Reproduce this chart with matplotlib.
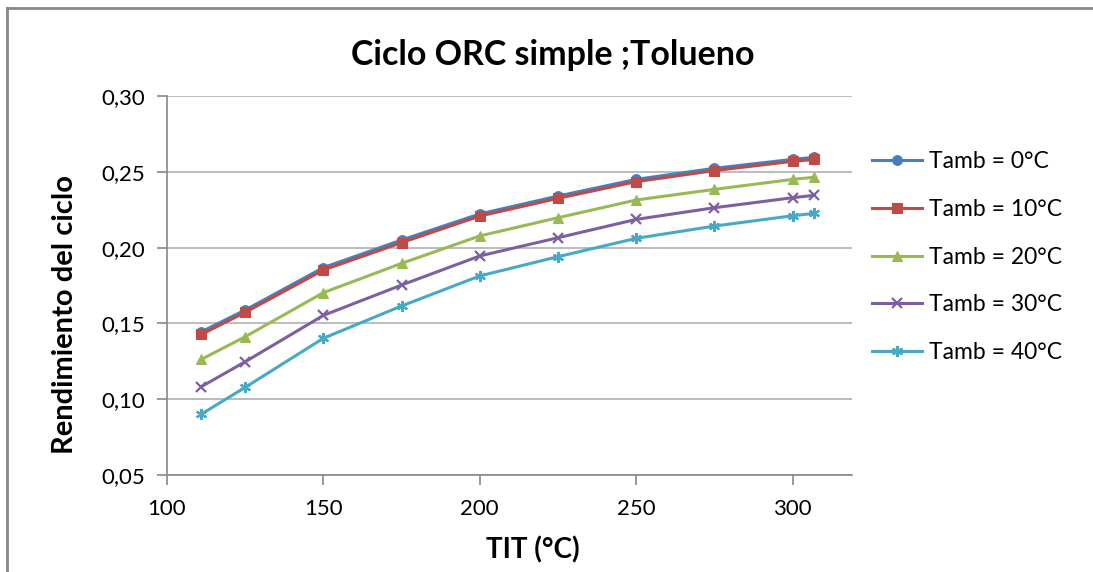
import matplotlib
matplotlib.use("Agg")
import matplotlib.pyplot as plt
from matplotlib.lines import Line2D

tit = [111, 125, 150, 175, 200, 225, 250, 275, 300, 307]
eta_0 = [0.1445, 0.1588, 0.1868, 0.2050, 0.2222, 0.2340, 0.2450, 0.2523, 0.2582, 0.2596]
eta_10 = [0.1428, 0.1573, 0.1852, 0.2033, 0.2208, 0.2325, 0.2435, 0.2508, 0.2569, 0.2582]
eta_20 = [0.1263, 0.1412, 0.1703, 0.1896, 0.2077, 0.2197, 0.2314, 0.2384, 0.2450, 0.2464]
eta_30 = [0.1083, 0.1247, 0.1553, 0.1753, 0.1945, 0.2065, 0.2186, 0.2263, 0.2329, 0.2345]
eta_40 = [0.0902, 0.1078, 0.1402, 0.1615, 0.1813, 0.1940, 0.2061, 0.2142, 0.2210, 0.2226]
labels = ["Tamb = 0°C", "Tamb = 10°C", "Tamb = 20°C", "Tamb = 30°C", "Tamb = 40°C"]
yticks = [0.05, 0.10, 0.15, 0.20, 0.25, 0.30]
xticks = [100, 150, 200, 250, 300]

plt.rcParams['font.family'] = ['Lato', 'DejaVu Sans']

fig = plt.figure(figsize=(10.93, 5.72), dpi=100)
ax = fig.add_axes([167/1093, 1-475/572, (852-167)/1093, (475-96)/572])

series = [eta_0, eta_10, eta_20, eta_30, eta_40]
colors = ["#4a7ebb", "#be4b48", "#98b954", "#7d60a0", "#46aac5"]
markers = ["o", "s", "^", "x", (6, 2, 0)]
msizes = [7, 7, 7, 7, 8]
for ys, c, m, ms, lab in zip(series, colors, markers, msizes, labels):
    ax.plot(tit, ys, color=c, lw=2.2, marker=m, markersize=ms,
            markeredgewidth=1.6 if m in ("x",) or isinstance(m, tuple) else 0.8,
            markerfacecolor=c, markeredgecolor=c, label=lab, zorder=3)

ax.set_xlim(100, 319)
ax.set_ylim(0.05, 0.30)
ax.set_xticks(xticks)
ax.set_yticks(yticks)
ax.set_yticklabels([f"{v:.2f}".replace(".", ",") for v in yticks])
ax.grid(axis="y", color="#b0b0b0", lw=1.2)
ax.set_axisbelow(True)
for s in ["top", "right"]:
    ax.spines[s].set_visible(False)
for s in ["left", "bottom"]:
    ax.spines[s].set_color("#888888")
    ax.spines[s].set_linewidth(1.2)
ax.tick_params(axis="both", colors="#888888", length=7, width=1.2, labelsize=16, labelcolor="black")
ax.tick_params(axis="x", pad=10)
ax.tick_params(axis="y", pad=9)

ax.set_xlabel("TIT (°C)", fontsize=20, fontweight="bold")
ax.set_ylabel("Rendimiento del ciclo", fontsize=21, fontweight="bold")
ax.xaxis.set_label_coords((533-167)/685, (475-550)/379)
ax.yaxis.set_label_coords((65-167)/685, (475-315)/379)
ax.xaxis.label.set_va("center")
ax.yaxis.label.set_va("center")
fig.text(553/1093, 1-55/572, "Ciclo ORC simple ;Tolueno", fontsize=24.5, fontweight="bold",
         ha="center", va="center")

leg = fig.legend(loc="upper left", bbox_to_anchor=(872/1093, 1-(163-12)/572), frameon=False,
                 fontsize=16.5, handlelength=2.2, labelspacing=1.17, handletextpad=0.3,
                 borderpad=0, borderaxespad=0)

fig.add_artist(Line2D([7/1093, 1], [1-8/572, 1-8/572], color="#888888", lw=2, transform=fig.transFigure))
fig.add_artist(Line2D([7/1093, 7/1093], [0, 1-8/572], color="#888888", lw=2, transform=fig.transFigure))

fig.savefig("out.png", dpi=100)
